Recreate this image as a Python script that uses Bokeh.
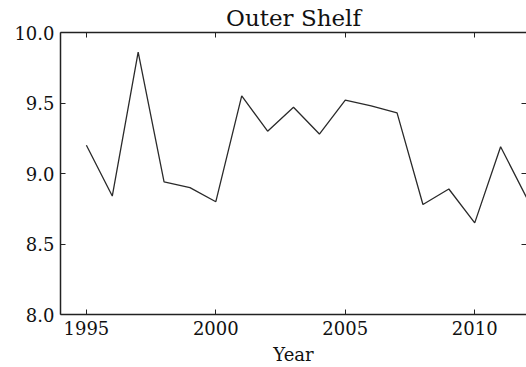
from bokeh.plotting import figure
from bokeh.models import LinearAxis, Range1d, FixedTicker, Title
from bokeh.embed import file_html
from bokeh.resources import INLINE

years = list(range(1995, 2013))
values = [9.20, 8.84, 9.86, 8.94, 8.90, 8.80, 9.55, 9.30, 9.47, 9.28,
          9.52, 9.48, 9.43, 8.78, 8.89, 8.65, 9.19, 8.83]
x_ticks = [1995, 2000, 2005, 2010]
y_ticks = [8.0, 8.5, 9.0, 9.5, 10.0]

FONT = "DejaVu Serif"

p = figure(width=526, height=367, output_backend="svg", toolbar_location=None,
           x_range=Range1d(1994, 2012), y_range=Range1d(8.0, 10.0),
           x_axis_location=None, y_axis_location=None,
           min_border_left=60, min_border_right=0, min_border_top=0, min_border_bottom=53)
p.outline_line_color = None
p.grid.visible = False
p.background_fill_color = "white"
p.border_fill_color = "white"

p.title = Title(text="Outer Shelf", align="center", text_font=FONT,
                text_font_size="23px", text_font_style="normal", text_color="#111111",
                standoff=4, offset=0)

def style(ax, labels=True, line=True):
    ax.major_tick_in = 5
    ax.major_tick_out = 0
    ax.minor_tick_line_color = None
    ax.major_tick_line_color = "#222222"
    ax.axis_line_color = "#222222" if line else None
    ax.axis_line_width = 1.5
    ax.major_label_text_font = FONT
    ax.major_label_text_font_size = "18px" if labels else "1px"
    ax.major_label_text_color = "#111111"
    ax.major_label_standoff = 6
    ax.axis_label_text_font = FONT
    ax.axis_label_text_font_size = "18px"
    ax.axis_label_text_font_style = "normal"
    ax.axis_label_text_color = "#111111"

bottom = LinearAxis(ticker=FixedTicker(ticks=x_ticks), axis_label="Year")
bottom.axis_label_standoff = 6
style(bottom)
p.add_layout(bottom, "below")

left = LinearAxis(ticker=FixedTicker(ticks=y_ticks))
style(left)
left.major_label_overrides = {v: f"{v:.1f}" for v in y_ticks}
p.add_layout(left, "left")

top = LinearAxis(ticker=FixedTicker(ticks=x_ticks))
style(top, labels=False)
top.major_label_standoff = 0
top.major_label_overrides = {v: "" for v in x_ticks}
p.add_layout(top, "above")

right = LinearAxis(ticker=FixedTicker(ticks=y_ticks))
style(right, labels=False, line=False)
right.major_label_standoff = 0
right.major_label_overrides = {v: "" for v in y_ticks}
p.add_layout(right, "right")

p.line(years, values, line_color="#2a2a2a", line_width=1.3)

open("out.html", "w").write(file_html(p, INLINE))
